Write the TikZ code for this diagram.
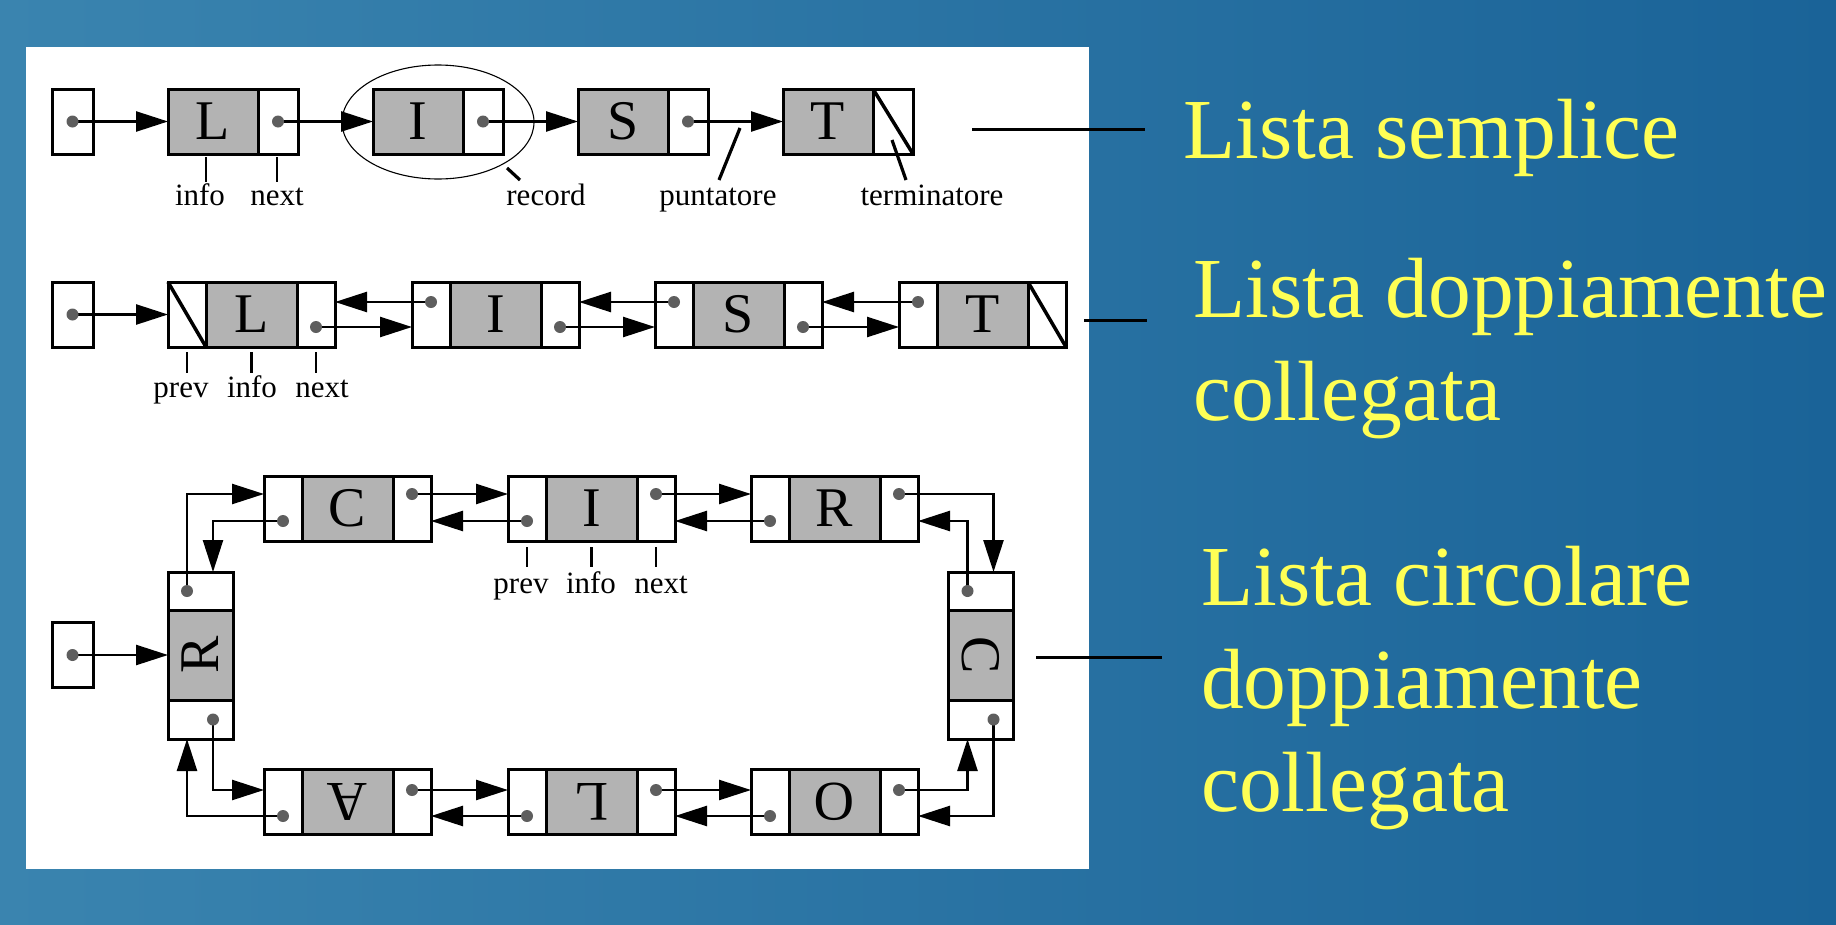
\documentclass[tikz,border=0pt]{standalone}
\usepackage{fontspec}
\setmainfont{Liberation Serif}
\usetikzlibrary{arrows.meta,shapes.geometric,calc}
\definecolor{slideblue}{HTML}{1A6398}
\definecolor{slidelight}{HTML}{3A84AF}
\definecolor{cellgray}{HTML}{B3B3B3}
\definecolor{dotgray}{HTML}{5E5E5E}
\definecolor{titleyellow}{HTML}{FFFF55}

\begin{document}
\begin{tikzpicture}[x=1bp,y=-1bp,
  cell/.style={draw=black, line width=3bp, inner sep=0pt, outer sep=0pt,
    anchor=north west, minimum height=65bp},
  wcell/.style={cell, fill=white},
  gcell/.style={cell, fill=cellgray, font=\fontsize{56bp}{60bp}\selectfont},
  letter/.style={inner sep=0pt, font=\fontsize{56bp}{60bp}\selectfont},
  ptr/.style={line width=2.5bp, -{Triangle[length=32bp,width=20bp]}},
  dotnode/.style={circle, fill=dotgray, inner sep=0pt, minimum size=12bp},
  tick/.style={line width=2.6bp},
  slant/.style={line width=3.2bp},
  diag/.style={line width=3.5bp},
  lbl/.style={inner sep=0pt, anchor=base, font=\fontsize{31bp}{34bp}\selectfont},
  title/.style={inner sep=0pt, anchor=base west, text=titleyellow,
    font=\fontsize{85.5bp}{103bp}\selectfont},
  bigline/.style={line width=3bp},
]
\useasboundingbox (0,0) rectangle (1836,924);

% slide background and white drawing panel
\shade[left color=slidelight, middle color=slideblue, right color=slideblue]
  (0,0) rectangle (1836,924);
\fill[white] (26,47) rectangle (1089,869);

% ---------- singly linked list ----------
\node[wcell, minimum width=41bp] (h1) at (52,89) {};
\coordinate (h1d) at (72.5,121.5);
\node[gcell, minimum width=90bp] (L1i) at (168,89) {L};
\node[wcell, minimum width=40bp] (L1n) at (258,89) {};
\coordinate (L1d) at (278,121.5);
\node[gcell, minimum width=90bp] (I1i) at (373,89) {I};
\node[wcell, minimum width=40bp] (I1n) at (463,89) {};
\coordinate (I1d) at (483,121.5);
\node[gcell, minimum width=90bp] (S1i) at (578,89) {S};
\node[wcell, minimum width=40bp] (S1n) at (668,89) {};
\coordinate (S1d) at (688,121.5);
\node[gcell, minimum width=90bp] (T1i) at (783,89) {T};
\node[wcell, minimum width=40bp] (T1n) at (873,89) {};
\draw[diag] (T1n.north west) -- (T1n.south east);

\draw[ptr] (h1d) -- (h1d -| L1i.west);
\draw[ptr] (L1d) -- (L1d -| I1i.west);
\draw[ptr] (I1d) -- (I1d -| S1i.west);
\draw[ptr] (S1d) -- (S1d -| T1i.west);

\node[draw, ellipse, line width=1.1bp, inner sep=0pt,
  minimum width=192bp, minimum height=114bp] (rec) at (438,122) {};

\node[lbl] (info1) at (200,205) {info};
\node[lbl] (next1) at (277,205) {next};
\node[lbl] (record) at (546,205) {record};
\node[lbl] (punt) at (718,205) {puntatore};
\node[lbl] (term) at (932,205) {terminatore};
\draw[tick] ($(L1i.south)+(-7,3)$) -- ++(0,25);
\draw[tick] ($(L1n.south)+(-1,3)$) -- ++(0,25);
\coordinate (recA) at (507,168);
\coordinate (recB) at (520,180);
\draw[slant] (recA) -- (recB);
\coordinate (puntA) at (740,128);
\coordinate (puntB) at (719,180);
\draw[slant] (puntA) -- (puntB);
\coordinate (termA) at (892,140);
\coordinate (termB) at (906,180);
\draw[slant] (termA) -- (termB);

% ---------- doubly linked list ----------
\node[wcell, minimum width=41bp] (h2) at (52,282) {};
\coordinate (h2d) at (72.5,314.5);
\node[wcell, minimum width=38bp] (L2p) at (168,282) {};
\draw[diag] (L2p.north west) -- (L2p.south east);
\node[gcell, minimum width=91bp] (L2i) at (206,282) {L};
\node[wcell, minimum width=38bp] (L2n) at (297,282) {};
\coordinate (L2nd) at (316,327);
\node[wcell, minimum width=38bp] (I2p) at (412,282) {};
\coordinate (I2pd) at (431,302);
\node[gcell, minimum width=91bp] (I2i) at (450,282) {I};
\node[wcell, minimum width=38bp] (I2n) at (541,282) {};
\coordinate (I2nd) at (560,327);
\node[wcell, minimum width=38bp] (S2p) at (655,282) {};
\coordinate (S2pd) at (674,302);
\node[gcell, minimum width=91bp] (S2i) at (693,282) {S};
\node[wcell, minimum width=38bp] (S2n) at (784,282) {};
\coordinate (S2nd) at (803,327);
\node[wcell, minimum width=38bp] (T2p) at (899,282) {};
\coordinate (T2pd) at (918,302);
\node[gcell, minimum width=91bp] (T2i) at (937,282) {T};
\node[wcell, minimum width=38bp] (T2n) at (1028,282) {};
\draw[diag] (T2n.north west) -- (T2n.south east);

\draw[ptr] (h2d) -- (h2d -| L2p.west);
\draw[ptr] (L2nd) -- (L2nd -| I2p.west);
\draw[ptr] (I2pd) -- (I2pd -| L2n.east);
\draw[ptr] (I2nd) -- (I2nd -| S2p.west);
\draw[ptr] (S2pd) -- (S2pd -| I2n.east);
\draw[ptr] (S2nd) -- (S2nd -| T2p.west);
\draw[ptr] (T2pd) -- (T2pd -| S2n.east);

\node[lbl] (prev2) at (181,397) {prev};
\node[lbl] (info2) at (252,397) {info};
\node[lbl] (next2) at (322,397) {next};
\draw[tick] ($(L2p.south)+(0,5)$) -- ++(0,21);
\draw[tick] ($(L2i.south)+(0,5)$) -- ++(0,21);
\draw[tick] ($(L2n.south)+(0,5)$) -- ++(0,21);

% ---------- circular doubly linked list ----------
% top side
\node[wcell, minimum width=38bp] (C3p) at (264,476) {};
\coordinate (C3pd) at (283,521);
\node[gcell, minimum width=91bp] (C3i) at (302,476) {C};
\node[wcell, minimum width=38bp] (C3n) at (393,476) {};
\coordinate (C3nd) at (412,494);
\node[wcell, minimum width=38bp] (I3p) at (508,476) {};
\coordinate (I3pd) at (527,521);
\node[gcell, minimum width=91bp] (I3i) at (546,476) {I};
\node[wcell, minimum width=38bp] (I3n) at (637,476) {};
\coordinate (I3nd) at (656,494);
\node[wcell, minimum width=38bp] (R3p) at (751,476) {};
\coordinate (R3pd) at (770,521);
\node[gcell, minimum width=91bp] (R3i) at (789,476) {R};
\node[wcell, minimum width=38bp] (R3n) at (880,476) {};
\coordinate (R3nd) at (899,494);

% right side
\node[wcell, minimum width=65bp, minimum height=38bp] (CVp) at (948,572) {};
\coordinate (CVpd) at (967.5,591);
\node[gcell, minimum width=65bp, minimum height=90bp] (CVi) at (948,610) {};
\node[letter, rotate=-90] (CVt) at (CVi.center) {C};
\node[wcell, minimum width=65bp, minimum height=39bp] (CVn) at (948,700) {};
\coordinate (CVnd) at (993.5,719.5);

% bottom side
\node[wcell, minimum width=38bp] (A3n) at (264,769) {};
\coordinate (A3nd) at (283,816);
\node[gcell, minimum width=91bp] (A3i) at (302,769) {};
\node[letter, rotate=180] (A3t) at (A3i.center) {A};
\node[wcell, minimum width=38bp] (A3p) at (393,769) {};
\coordinate (A3pd) at (412,790);
\node[wcell, minimum width=38bp] (L3n) at (508,769) {};
\coordinate (L3nd) at (527,816);
\node[gcell, minimum width=91bp] (L3i) at (546,769) {};
\node[letter, rotate=180] (L3t) at (L3i.center) {L};
\node[wcell, minimum width=38bp] (L3p) at (637,769) {};
\coordinate (L3pd) at (656,790);
\node[wcell, minimum width=38bp] (O3n) at (751,769) {};
\coordinate (O3nd) at (770,816);
\node[gcell, minimum width=91bp] (O3i) at (789,769) {};
\node[letter, rotate=180] (O3t) at (O3i.center) {O};
\node[wcell, minimum width=38bp] (O3p) at (880,769) {};
\coordinate (O3pd) at (899,790);

% left side
\node[wcell, minimum width=65bp, minimum height=38bp] (RVn) at (168,572) {};
\coordinate (RVnd) at (187,591);
\node[gcell, minimum width=65bp, minimum height=90bp] (RVi) at (168,610) {};
\node[letter, rotate=90] (RVt) at (RVi.center) {R};
\node[wcell, minimum width=65bp, minimum height=39bp] (RVp) at (168,700) {};
\coordinate (RVpd) at (213,719.5);

% list head
\node[wcell, minimum width=41bp] (h3) at (52,622.5) {};
\coordinate (h3d) at (72.5,655);
\draw[ptr] (h3d) -- (h3d -| RVi.west);

% links along the top
\draw[ptr] (C3nd) -- (C3nd -| I3p.west);
\draw[ptr] (I3pd) -- (I3pd -| C3n.east);
\draw[ptr] (I3nd) -- (I3nd -| R3p.west);
\draw[ptr] (R3pd) -- (R3pd -| I3n.east);
% links along the bottom
\draw[ptr] (O3nd) -- (O3nd -| L3p.east);
\draw[ptr] (L3pd) -- (L3pd -| O3n.west);
\draw[ptr] (L3nd) -- (L3nd -| A3p.east);
\draw[ptr] (A3pd) -- (A3pd -| L3n.west);
% links round the corners
\draw[ptr] (RVnd) |- (C3p.west |- C3nd);
\draw[ptr] (C3pd) -| (RVn.north -| RVpd);
\draw[ptr] (R3nd) -| (CVp.north -| CVnd);
\draw[ptr] (CVpd) |- (R3n.east |- R3pd);
\draw[ptr] (CVnd) |- (O3p.east |- O3nd);
\draw[ptr] (O3pd) -| (CVn.south -| CVpd);
\draw[ptr] (A3nd) -| (RVp.south -| RVnd);
\draw[ptr] (RVpd) |- (A3n.west |- A3pd);

\node[lbl] (prev3) at (521,593) {prev};
\node[lbl] (info3) at (591,593) {info};
\node[lbl] (next3) at (661,593) {next};
\draw[tick] ($(I3p.south)+(0,6)$) -- ++(0,20);
\draw[tick] ($(I3i.south)+(0,6)$) -- ++(0,20);
\draw[tick] ($(I3n.south)+(0,6)$) -- ++(0,20);

% pointer dots on top of the link lines
\foreach \d in {h1d,L1d,I1d,S1d,h2d,L2nd,I2pd,I2nd,S2pd,S2nd,T2pd,
  C3pd,C3nd,I3pd,I3nd,R3pd,R3nd,CVpd,CVnd,A3nd,A3pd,L3nd,L3pd,O3nd,O3pd,
  RVnd,RVpd,h3d}
  \node[dotnode] (\d-dot) at (\d) {};

% captions
\coordinate (k1a) at (972,129);
\coordinate (k1b) at (1145,129);
\draw[bigline] (k1a) -- (k1b);
\coordinate (k2a) at (1084,320);
\coordinate (k2b) at (1147,320);
\draw[bigline] (k2a) -- (k2b);
\coordinate (k3a) at (1036,657);
\coordinate (k3b) at (1162,657);
\draw[bigline] (k3a) -- (k3b);

\node[title] (t1) at (1183,158) {Lista semplice};
\node[title] (t2a) at (1193,317) {Lista doppiamente};
\node[title] (t2b) at (1193,420) {collegata};
\node[title] (t3a) at (1201,605) {Lista circolare};
\node[title] (t3b) at (1201,708) {doppiamente};
\node[title] (t3c) at (1201,811) {collegata};
\end{tikzpicture}
\end{document}
